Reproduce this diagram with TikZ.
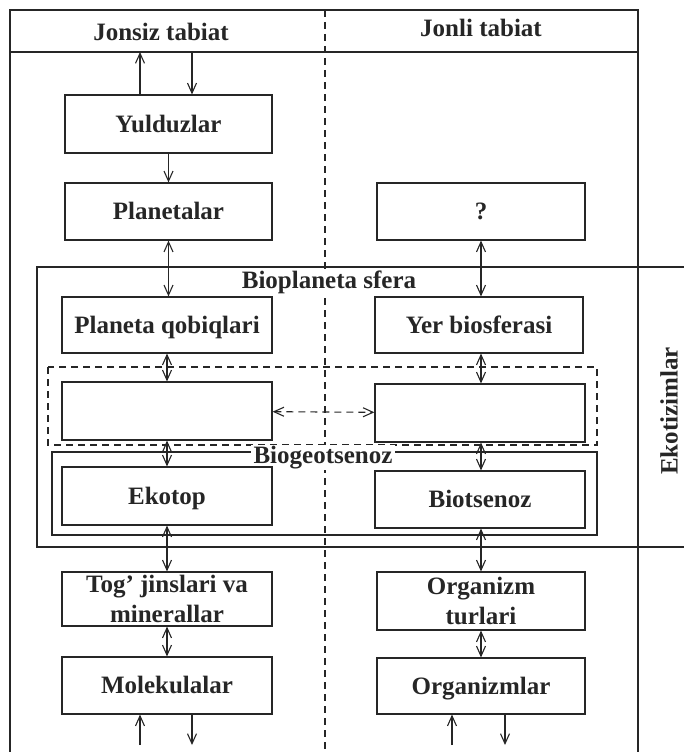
\documentclass[tikz,border=0pt]{standalone}
\usepackage{fontspec}
\setmainfont{Liberation Serif}
\usetikzlibrary{arrows.meta}

\tikzset{
  blok/.style={draw,line width=1.2pt,minimum width=208pt,minimum height=57pt,inner sep=0pt,text height=19pt,text depth=3pt,font=\bfseries\fontsize{25}{29}\selectfont},
  ikkiqator/.style={draw,line width=1.2pt,minimum width=208pt,minimum height=57pt,inner sep=0pt,align=center,font=\bfseries\fontsize{25}{30}\selectfont},
  yozuv/.style={font=\bfseries\fontsize{25}{29}\selectfont,inner sep=1pt},
  strelka/.style={line width=1.1pt,-{Straight Barb[length=10pt,width=9pt]}},
  ikki/.style={line width=1.1pt,{Straight Barb[length=10pt,width=9pt]}-{Straight Barb[length=10pt,width=9pt]}}
}

\begin{document}
\begin{tikzpicture}[x=1pt,y=-1pt,color=black!85]
          \useasboundingbox (0,0) rectangle (684,752);
          % ramka va sarlavha
          \draw [line width=1.3pt](10,752)--(10,10)--(638,10)--(638,752);
          \draw [line width=1.3pt](10,52)--(638,52);
          \draw [line width=1.2pt,dash pattern=on 7pt off 5pt](325,10)--(325,752);
          \node [yozuv,anchor=base] (jonsiz) at (161,41) {Jonsiz tabiat};
          \node [yozuv,anchor=base] (jonli) at (481,37) {Jonli tabiat};

          % katta ramkalar
          \draw [line width=1.3pt](684,267)--(37,267)--(37,547)--(684,547);
          \draw [line width=1.2pt,dash pattern=on 7pt off 5pt](48,367) rectangle (597,445);
          \draw [line width=1.2pt](52,452) rectangle (597,535);
          \node [yozuv,anchor=base,fill=white,inner xsep=3pt] (bioplaneta) at (329,288) {Bioplaneta sfera};
          \node [yozuv,anchor=base,fill=white,inner xsep=3pt] (biogeo) at (323,463) {Biogeotsenoz};
          \node [yozuv,rotate=90] (ekotizim) at (669,411) {Ekotizimlar};

          % jonsiz tabiat
          \node [blok,minimum width=207pt,minimum height=58pt] (yulduz) at (168.5,124) {Yulduzlar};
          \node [blok,minimum width=207pt] (planeta) at (168.5,211.5) {Planetalar};
          \node [blok,minimum width=210pt,minimum height=56pt] (qobiq) at (167,325) {Planeta qobiqlari};
          \node [blok,minimum width=210pt,minimum height=58pt] (bosh1) at (167,411) {};
          \node [blok,minimum width=210pt,minimum height=58pt] (ekotop) at (167,496) {Ekotop};
          \node [ikkiqator,minimum width=210pt,minimum height=54pt] (tog) at (167,599) {Tog' jinslari va\\minerallar};
          \node [blok,minimum width=210pt] (molekula) at (167,685.5) {Molekulalar};

          % jonli tabiat
          \node [blok] (savol) at (481,211.5) {?};
          \node [blok,minimum height=56pt] (yer) at (479,325) {Yer biosferasi};
          \node [blok,minimum width=210pt,minimum height=58pt] (bosh2) at (480,413) {};
          \node [blok,minimum width=210pt] (biotsenoz) at (480,499.5) {Biotsenoz};
          \node [ikkiqator,minimum height=58pt] (turlar) at (481,601) {Organizm\\turlari};
          \node [blok,minimum height=56pt] (organizm) at (481,686) {Organizmlar};

          % erkin uchlar
          \coordinate (y1) at (140,52);
          \coordinate (y2) at (192,52);
          \coordinate (m1) at (140,745);
          \coordinate (m2) at (192,745);
          \coordinate (o1) at (452,745);
          \coordinate (o2) at (505,745);

          % strelkalar
          \draw [strelka](yulduz.north -| y1)--(y1);
          \draw [strelka](y2)--(yulduz.north -| y2);
          \draw [strelka](yulduz)--(planeta);
          \draw [ikki](planeta.south)--(planeta.south |- qobiq.north);
          \draw [ikki](savol.south)--(savol.south |- yer.north);
          \draw [ikki](qobiq.south)--(qobiq.south |- bosh1.north);
          \draw [ikki](yer.south -| savol.south)--(savol.south |- bosh2.north);
          \draw [ikki,dash pattern=on 7pt off 5pt](bosh1)--(bosh2);
          \draw [ikki](bosh1.south)--(bosh1.south |- ekotop.north);
          \draw [ikki](bosh2.south -| savol.south)--(savol.south |- biotsenoz.north);
          \draw [ikki](ekotop.south)--(ekotop.south |- tog.north);
          \draw [ikki](biotsenoz.south -| savol.south)--(savol.south |- turlar.north);
          \draw [ikki](tog)--(molekula);
          \draw [ikki](turlar)--(organizm);
          \draw [strelka](m1)--(molekula.south -| m1);
          \draw [strelka](molekula.south -| m2)--(m2);
          \draw [strelka](o1)--(organizm.south -| o1);
          \draw [strelka](organizm.south -| o2)--(o2);

          \end{tikzpicture}
\end{document}
